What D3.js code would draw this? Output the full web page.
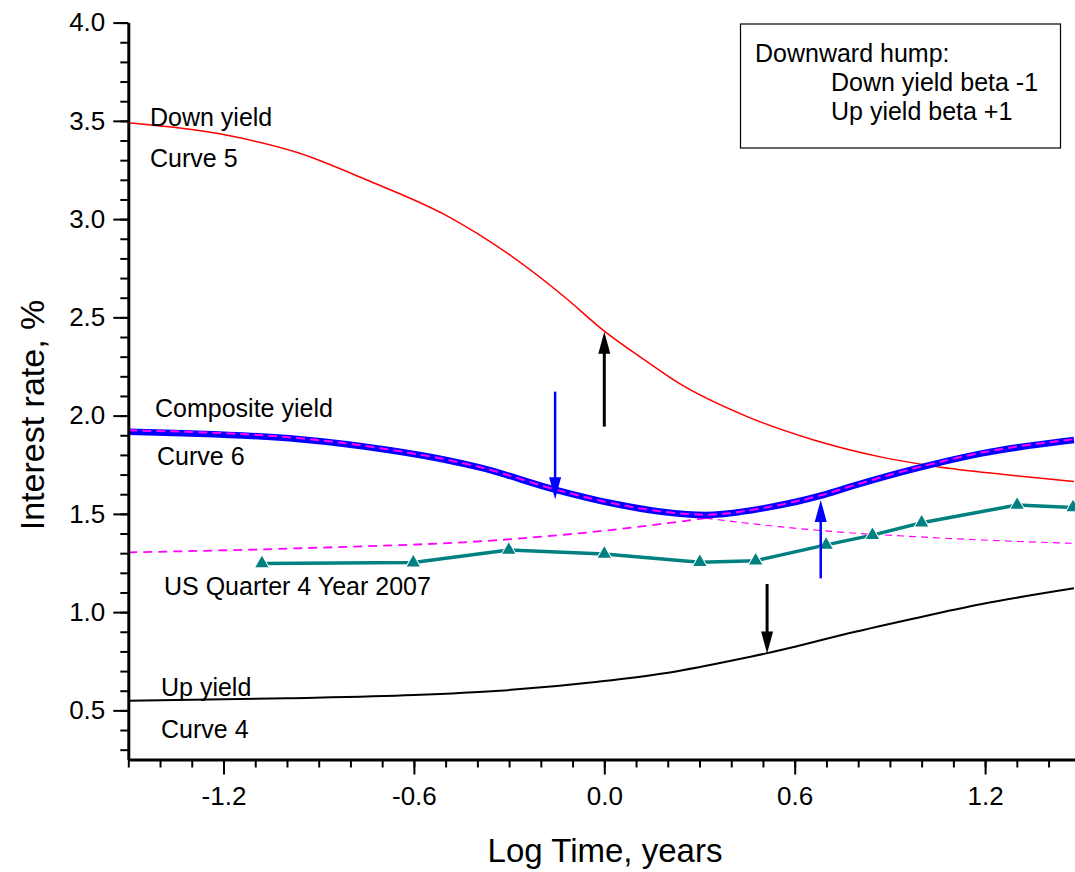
<!DOCTYPE html>
<html>
<head>
<meta charset="utf-8">
<script src="https://cdn.jsdelivr.net/npm/d3@7"></script>
<style>
  body { margin: 0; background: #fff; }
  svg { display: block; }
  text { font-family: Arial, "Liberation Sans", sans-serif; fill: #000; }
</style>
</head>
<body>
<div id="chart"></div>
<script>
// log10 of time in years for the model curves
var curveX = [-1.5, -1.2, -0.96, -0.75, -0.5, -0.3, -0.13, 0.0, 0.13, 0.235, 0.45, 0.66, 0.87, 1.05, 1.26, 1.48];
var downYield = [3.49, 3.43, 3.335, 3.2, 3.02, 2.82, 2.61, 2.43, 2.28, 2.165, 1.995, 1.876, 1.79, 1.74, 1.70, 1.664];

var compX = [-1.5, -0.96, -0.68, -0.51, -0.39, -0.15, 0.02, 0.18, 0.32, 0.5, 0.69, 0.8, 0.98, 1.19, 1.48];
var composite = [1.918, 1.88, 1.825, 1.778, 1.735, 1.621, 1.555, 1.511, 1.494, 1.528, 1.596, 1.65, 1.73, 1.808, 1.876];
var compositeFit = [1.925, 1.885, 1.828, 1.78, 1.737, 1.622, 1.556, 1.512, 1.496, 1.53, 1.598, 1.652, 1.733, 1.812, 1.88];

var upX = [-1.5, -1.0, -0.6, -0.33, -0.02, 0.19, 0.4, 0.51, 0.61, 0.77, 0.98, 1.19, 1.48];
var upYield = [0.549, 0.562, 0.578, 0.6, 0.646, 0.689, 0.753, 0.79, 0.828, 0.892, 0.969, 1.041, 1.121];

var dashLeftX = [-1.5, -0.96, -0.33, -0.08, 0.32];
var dashLeft = [1.304, 1.325, 1.367, 1.401, 1.478];
var dashRightX = [0.32, 0.55, 0.77, 0.98, 1.19, 1.48];
var dashRight = [1.478, 1.435, 1.404, 1.384, 1.367, 1.35];

// US Quarter 4 Year 2007: log10 of maturity (1m ... 30y)
var usX = [-1.079, -0.602, -0.301, 0.0, 0.301, 0.477, 0.699, 0.845, 1.0, 1.301, 1.477];
var usRate = [1.248, 1.252, 1.316, 1.296, 1.254, 1.262, 1.342, 1.392, 1.455, 1.545, 1.533];

// arrows: x, from, to
var arrowX = [0.0, -0.155, 0.682, 0.513];
var arrowFrom = [1.944, 2.122, 1.172, 1.143];
var arrowTo = [2.427, 1.574, 1.571, 0.79];
var arrowColor = ["#000", "#0000ff", "#0000ff", "#000"];

var xTicks = [-1.2, -0.6, 0.0, 0.6, 1.2];
var yTicks = [0.5, 1.0, 1.5, 2.0, 2.5, 3.0, 3.5, 4.0];

var width = 1075, height = 872;

var svg = d3.select("#chart").append("svg")
  .attr("width", width)
  .attr("height", height);

var xScale = d3.scaleLinear().domain([-1.5, 1.5]).range([128.3, 1080.3]);
var yScale = d3.scaleLinear().domain([0.25, 4.0]).range([759.5, 22.6]);

svg.append("clipPath").attr("id", "clip")
  .append("rect")
  .attr("x", 128).attr("y", 0)
  .attr("width", width - 128).attr("height", 760);

var plot = svg.append("g").attr("clip-path", "url(#clip)");

function lineOf(xs) {
  return d3.line()
    .x(function(d, i) { return xScale(xs[i]); })
    .y(function(d) { return yScale(d); })
    .curve(d3.curveMonotoneX);
}

// thin magenta dashed
plot.append("path")
  .attr("d", lineOf(dashLeftX)(dashLeft))
  .attr("fill", "none").attr("stroke", "#ff00ff")
  .attr("stroke-width", 1.8).attr("stroke-dasharray", "9,6");
plot.append("path")
  .attr("d", lineOf(dashRightX)(dashRight))
  .attr("fill", "none").attr("stroke", "#ff00ff")
  .attr("stroke-width", 1.2).attr("stroke-dasharray", "7,5");

// down yield
plot.append("path")
  .attr("d", lineOf(curveX)(downYield))
  .attr("fill", "none").attr("stroke", "#ff0000")
  .attr("stroke-width", 1.5);

// up yield
plot.append("path")
  .attr("d", lineOf(upX)(upYield))
  .attr("fill", "none").attr("stroke", "#000")
  .attr("stroke-width", 2);

// composite
plot.append("path")
  .attr("d", lineOf(compX)(composite))
  .attr("fill", "none").attr("stroke", "#0000ff")
  .attr("stroke-width", 6.5);
plot.append("path")
  .attr("d", lineOf(compX)(compositeFit))
  .attr("fill", "none").attr("stroke", "#ff00ff")
  .attr("stroke-width", 2).attr("stroke-dasharray", "9,5");

// US data
plot.append("path")
  .attr("d", d3.line()
    .x(function(d, i) { return xScale(usX[i]); })
    .y(function(d) { return yScale(d); })(usRate))
  .attr("fill", "none").attr("stroke", "#008080")
  .attr("stroke-width", 3.5);
plot.selectAll(".tri")
  .data(usRate)
  .enter().append("path")
  .attr("class", "tri")
  .attr("d", d3.symbol().type(d3.symbolTriangle).size(75))
  .attr("transform", function(d, i) { return "translate(" + xScale(usX[i]) + "," + yScale(d) + ")"; })
  .attr("fill", "#008080")
  .attr("stroke", "#fff").attr("stroke-width", 2)
  .attr("paint-order", "stroke");

// arrows
arrowX.forEach(function(ax, i) {
  var px = xScale(ax), y0 = yScale(arrowFrom[i]), y1 = yScale(arrowTo[i]);
  var dir = y1 < y0 ? 1 : -1;
  var headLen = 22, headW = 6;
  var thick = arrowColor[i] === "#000" ? 3 : 2.5;
  svg.append("line")
    .attr("x1", px).attr("x2", px)
    .attr("y1", y0).attr("y2", y1 + dir * headLen * 0.8)
    .attr("stroke", arrowColor[i]).attr("stroke-width", thick);
  svg.append("path")
    .attr("d", "M" + px + "," + y1 + "L" + (px - headW) + "," + (y1 + dir * headLen) +
      "L" + (px + headW) + "," + (y1 + dir * headLen) + "Z")
    .attr("fill", arrowColor[i]);
});

// axes
var minorY = d3.range(3, 41).map(function(d) { return d / 10; });
var minorX = d3.range(-15, 15).map(function(d) { return d / 10; });
var fmt = function(d) { return d.toFixed(1); };

svg.append("g")
  .attr("transform", "translate(128.3,0)")
  .call(d3.axisLeft(yScale).tickValues(minorY).tickSize(8).tickFormat("").tickSizeOuter(0))
  .call(function(g) { g.select(".domain").remove(); g.selectAll("line").attr("stroke-width", 2); });

svg.append("g")
  .attr("transform", "translate(0,759.5)")
  .call(d3.axisBottom(xScale).tickValues(minorX).tickSize(8).tickFormat("").tickSizeOuter(0))
  .call(function(g) { g.select(".domain").remove(); g.selectAll("line").attr("stroke-width", 2); });

var yAxis = svg.append("g")
  .attr("transform", "translate(128.3,0)")
  .call(d3.axisLeft(yScale).tickValues(yTicks).tickSize(15).tickPadding(8).tickFormat(fmt).tickSizeOuter(0));
yAxis.selectAll("line").attr("stroke-width", 2);
yAxis.select(".domain").attr("stroke-width", 3);
yAxis.selectAll("text").attr("font-size", 26).attr("font-family", "Arial, 'Liberation Sans', sans-serif");

var xAxis = svg.append("g")
  .attr("transform", "translate(0,759.5)")
  .call(d3.axisBottom(xScale).tickValues(xTicks).tickSize(15).tickPadding(12).tickFormat(fmt).tickSizeOuter(0));
xAxis.selectAll("line").attr("stroke-width", 2);
xAxis.select(".domain").attr("stroke-width", 3);
xAxis.selectAll("text").attr("font-size", 26).attr("font-family", "Arial, 'Liberation Sans', sans-serif");

// axis titles
svg.append("text")
  .attr("x", 605).attr("y", 862)
  .attr("text-anchor", "middle")
  .attr("font-size", 33)
  .text("Log Time, years");
svg.append("text")
  .attr("transform", "translate(44,415) rotate(-90)")
  .attr("text-anchor", "middle")
  .attr("font-size", 34)
  .text("Interest rate, %");

// curve labels
var labels = [
  ["Down yield", 150, 126], ["Curve 5", 150, 167],
  ["Composite yield", 155, 417], ["Curve 6", 157, 465],
  ["US Quarter 4 Year 2007", 164, 595],
  ["Up yield", 161, 696], ["Curve 4", 161, 738]
];
labels.forEach(function(l) {
  svg.append("text").attr("x", l[1]).attr("y", l[2])
    .attr("font-size", 25).text(l[0]);
});

// note box
svg.append("rect")
  .attr("x", 740.5).attr("y", 24)
  .attr("width", 320).attr("height", 124)
  .attr("fill", "#fff").attr("stroke", "#000").attr("stroke-width", 1.2);
var note = [["Downward hump:", 755, 62], ["Down yield beta -1", 831, 91], ["Up yield beta +1", 831, 120]];
note.forEach(function(l) {
  svg.append("text").attr("x", l[1]).attr("y", l[2])
    .attr("font-size", 25).text(l[0]);
});
</script>
</body>
</html>
